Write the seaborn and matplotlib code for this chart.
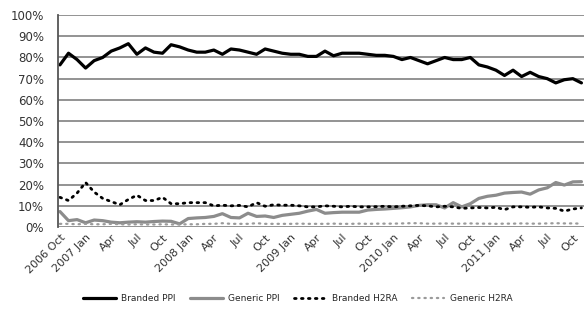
import numpy as np
import pandas as pd
import matplotlib
matplotlib.use("Agg")
import matplotlib.pyplot as plt
import seaborn as sns

# monthly shares, Oct 2006 - Nov 2011
branded_ppi = [76.5, 82, 79,
               75, 78.5, 80, 83, 84.5, 86.5, 81.5, 84.5, 82.5, 82, 86, 85,
               83.5, 82.5, 82.5, 83.5, 81.5, 84, 83.5, 82.5, 81.5, 84, 83, 82,
               81.5, 81.5, 80.5, 80.5, 83, 80.8, 82, 82, 82, 81.5, 81, 81,
               80.5, 79, 80, 78.5, 77, 78.5, 80, 79, 79, 80, 76.5, 75.5,
               74, 71.5, 74, 71, 73, 71, 70, 68, 69.5, 70, 68]
generic_ppi = [7.3, 3, 3.5,
               2, 3.3, 3, 2.3, 2, 2.3, 2.5, 2.3, 2.6, 2.8, 2.7, 1.5,
               4, 4.3, 4.5, 5, 6.3, 4.5, 4.3, 6.5, 5, 5.2, 4.5, 5.5,
               6, 6.5, 7.5, 8.3, 6.5, 6.8, 7, 7, 7, 8, 8.3, 8.5,
               8.8, 9.1, 9.5, 10.2, 10.5, 10.5, 9, 11.5, 9.5, 11, 13.5, 14.5,
               15, 16, 16.3, 16.5, 15.5, 17.5, 18.5, 21, 19.8, 21.3, 21.4]
branded_h2ra = [14, 12.5, 16,
                21, 16.5, 13.5, 12, 10.5, 13, 15, 12.5, 12.5, 14, 11, 11,
                11.5, 11.5, 11.5, 10, 10.3, 10, 10.2, 9.5, 11.5, 9.8, 10.5, 10.3,
                10.3, 10, 9.5, 9.5, 10, 9.8, 9.5, 9.8, 9.5, 9.5, 9.6, 9.8,
                9.5, 9.8, 10, 10.2, 10, 9.5, 9.8, 9.5, 8.8, 9, 9.2, 9,
                9.3, 8.2, 9.5, 9.5, 9.3, 9.5, 9, 8.8, 7.5, 8.5, 9]
generic_h2ra = [1.5, 1.5, 1.3,
                1.5, 1.3, 1.3, 1.5, 1.3, 1.2, 1.3, 1.2, 1.2, 1.3, 1.2, 1.2,
                1.3, 1.3, 1.5, 1.5, 1.8, 1.5, 1.5, 1.5, 1.8, 1.5, 1.5, 1.5,
                1.5, 1.6, 1.5, 1.5, 1.5, 1.6, 1.5, 1.5, 1.6, 1.5, 1.6, 1.6,
                1.6, 1.7, 1.8, 1.8, 1.6, 1.6, 1.7, 1.6, 1.6, 1.7, 1.6, 1.6,
                1.5, 1.6, 1.6, 1.7, 1.6, 1.6, 1.7, 1.8, 1.7, 1.7, 1.6]

tick_labels = ["2006 Oct", "2007 Jan", "Apr", "Jul", "Oct",
               "2008 Jan", "Apr", "Jul", "Oct",
               "2009 Jan", "Apr", "Jul", "Oct",
               "2010 Jan", "Apr", "Jul", "Oct",
               "2011 Jan", "Apr", "Jul", "Oct"]

series = {
    "Branded PPI": branded_ppi,
    "Generic PPI": generic_ppi,
    "Branded H2RA": branded_h2ra,
    "Generic H2RA": generic_h2ra,
}
styles = {
    "Branded PPI": dict(color="black", lw=2.3, ls="-"),
    "Generic PPI": dict(color="#8c8c8c", lw=2.3, ls="-"),
    "Branded H2RA": dict(color="black", lw=2.0, ls=(0, (0.6, 1.9))),
    "Generic H2RA": dict(color="#9a9a9a", lw=1.6, ls=(0, (0.6, 2.2))),
}

df = pd.DataFrame(series)
df["idx"] = np.arange(len(df))
long_df = df.melt(id_vars="idx", var_name="series", value_name="share")

sns.set_style("white")
plt.rcParams["font.family"] = ["DejaVu Sans"]

fig = plt.figure(figsize=(5.84, 3.14), dpi=100)
ax = fig.add_axes([0.099, 0.277, 0.901, 0.675])

# gridlines
for v in range(0, 101, 10):
    ax.axhline(v, color="#8a8a8a", lw=1.3, zorder=0)

for name in series:
    st = styles[name]
    sub = long_df[long_df["series"] == name]
    sns.lineplot(data=sub, x="idx", y="share", ax=ax, color=st["color"],
                 linewidth=st["lw"], linestyle=st["ls"], label=name,
                 legend=False, dash_capstyle="round", solid_capstyle="round")

ax.set_xlim(-0.25, 61.3)
ax.set_ylim(0, 100)
ax.set_yticks(range(0, 101, 10))
ax.set_yticklabels([f"{v}%" for v in range(0, 101, 10)], fontsize=8.5, color="#333333")
ax.set_xticks(np.arange(0, 61, 3))
ax.set_xticklabels(tick_labels, rotation=45, ha="right", rotation_mode="anchor",
                   fontsize=8, color="#333333")
ax.tick_params(axis="y", length=0, pad=10)
ax.tick_params(axis="x", length=0, pad=4)
ax.set_xlabel("")
ax.set_ylabel("")
for s in ["top", "right", "bottom"]:
    ax.spines[s].set_visible(False)
ax.spines["left"].set_color("#555555")
ax.spines["left"].set_linewidth(1.3)

handles, labels = ax.get_legend_handles_labels()
fig.legend(handles, labels, loc="center", bbox_to_anchor=(0.51, 0.05), ncol=4,
           frameon=False, fontsize=6.5, handlelength=3.6, columnspacing=1.6,
           handletextpad=0.6)

fig.savefig("out.png", dpi=100)
